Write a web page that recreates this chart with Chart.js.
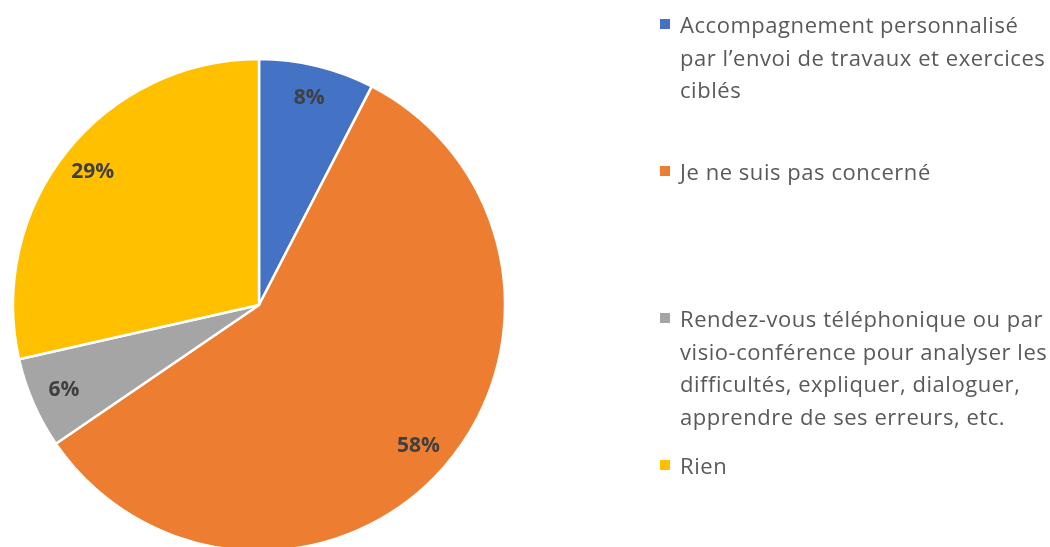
<!DOCTYPE html>
<html>
<head>
<meta charset="utf-8">
<script src="https://cdn.jsdelivr.net/npm/chart.js@4/dist/chart.umd.min.js"></script>
<style>
  html, body { margin: 0; padding: 0; background: #ffffff; overflow: hidden; width: 1050px; height: 547px; }
  #wrap { position: absolute; left: 0; top: 0; width: 1050px; height: 610px; }
</style>
</head>
<body>
<div id="wrap"><canvas id="c" width="1050" height="610"></canvas></div>
<script>
const categories = [
  ["Accompagnement personnalisé", "par l\u2019envoi de travaux et exercices", "ciblés"],
  ["Je ne suis pas concerné"],
  ["Rendez-vous téléphonique ou par", "visio-conférence pour analyser les", "difficultés, expliquer, dialoguer,", "apprendre de ses erreurs, etc."],
  ["Rien"]
];
const values = [7.6, 58, 6, 28.6];
const colors = ["#4472C4", "#ED7D31", "#A5A5A5", "#FFC000"];

const labelPlugin = {
  id: 'pctLabels',
  afterDatasetsDraw(chart) {
    const ctx = chart.ctx;
    const meta = chart.getDatasetMeta(0);
    const data = chart.data.datasets[0].data;
    const total = data.reduce((a, b) => a + b, 0);
    ctx.save();
    ctx.font = 'bold 21px "Open Sans", sans-serif';
    ctx.fillStyle = '#404040';
    ctx.textAlign = 'center';
    ctx.textBaseline = 'middle';
    meta.data.forEach((arc, i) => {
      const p = arc.getProps(['x', 'y', 'startAngle', 'endAngle', 'outerRadius'], true);
      const mid = (p.startAngle + p.endAngle) / 2;
      const r = p.outerRadius * 0.865;
      const x = p.x + Math.cos(mid) * r;
      const y = p.y + Math.sin(mid) * r;
      ctx.fillText(Math.round(data[i] / total * 100) + '%', x, y);
    });
    ctx.restore();
  }
};

const legendPlugin = {
  id: 'sideLegend',
  afterDraw(chart) {
    const ctx = chart.ctx;
    const labels = chart.data.labels;
    const bg = chart.data.datasets[0].backgroundColor;
    const boxX = 660, textX = 680, firstBaseline = 33, itemPitch = 147, lineH = 32.5, box = 10;
    ctx.save();
    ctx.font = '22px "Open Sans", sans-serif';
    if ('letterSpacing' in ctx) ctx.letterSpacing = '0.55px';
    ctx.textAlign = 'left';
    ctx.textBaseline = 'alphabetic';
    labels.forEach((lines, i) => {
      const base = firstBaseline + itemPitch * i;
      ctx.fillStyle = bg[i];
      ctx.fillRect(boxX, base - 14, box, box);
      ctx.fillStyle = '#595959';
      lines.forEach((t, j) => ctx.fillText(t, textX, base + j * lineH));
    });
    ctx.restore();
  }
};

new Chart(document.getElementById('c'), {
  type: 'pie',
  data: {
    labels: categories,
    datasets: [{
      data: values,
      backgroundColor: colors,
      borderColor: '#ffffff',
      borderWidth: 2.5,
      radius: 246
    }]
  },
  options: {
    responsive: false,
    animation: false,
    layout: { padding: { left: 0, top: 0, bottom: 0, right: 532 } },
    plugins: {
      legend: { display: false },
      tooltip: { enabled: false },
      title: { display: false }
    }
  },
  plugins: [labelPlugin, legendPlugin]
});
</script>
</body>
</html>
